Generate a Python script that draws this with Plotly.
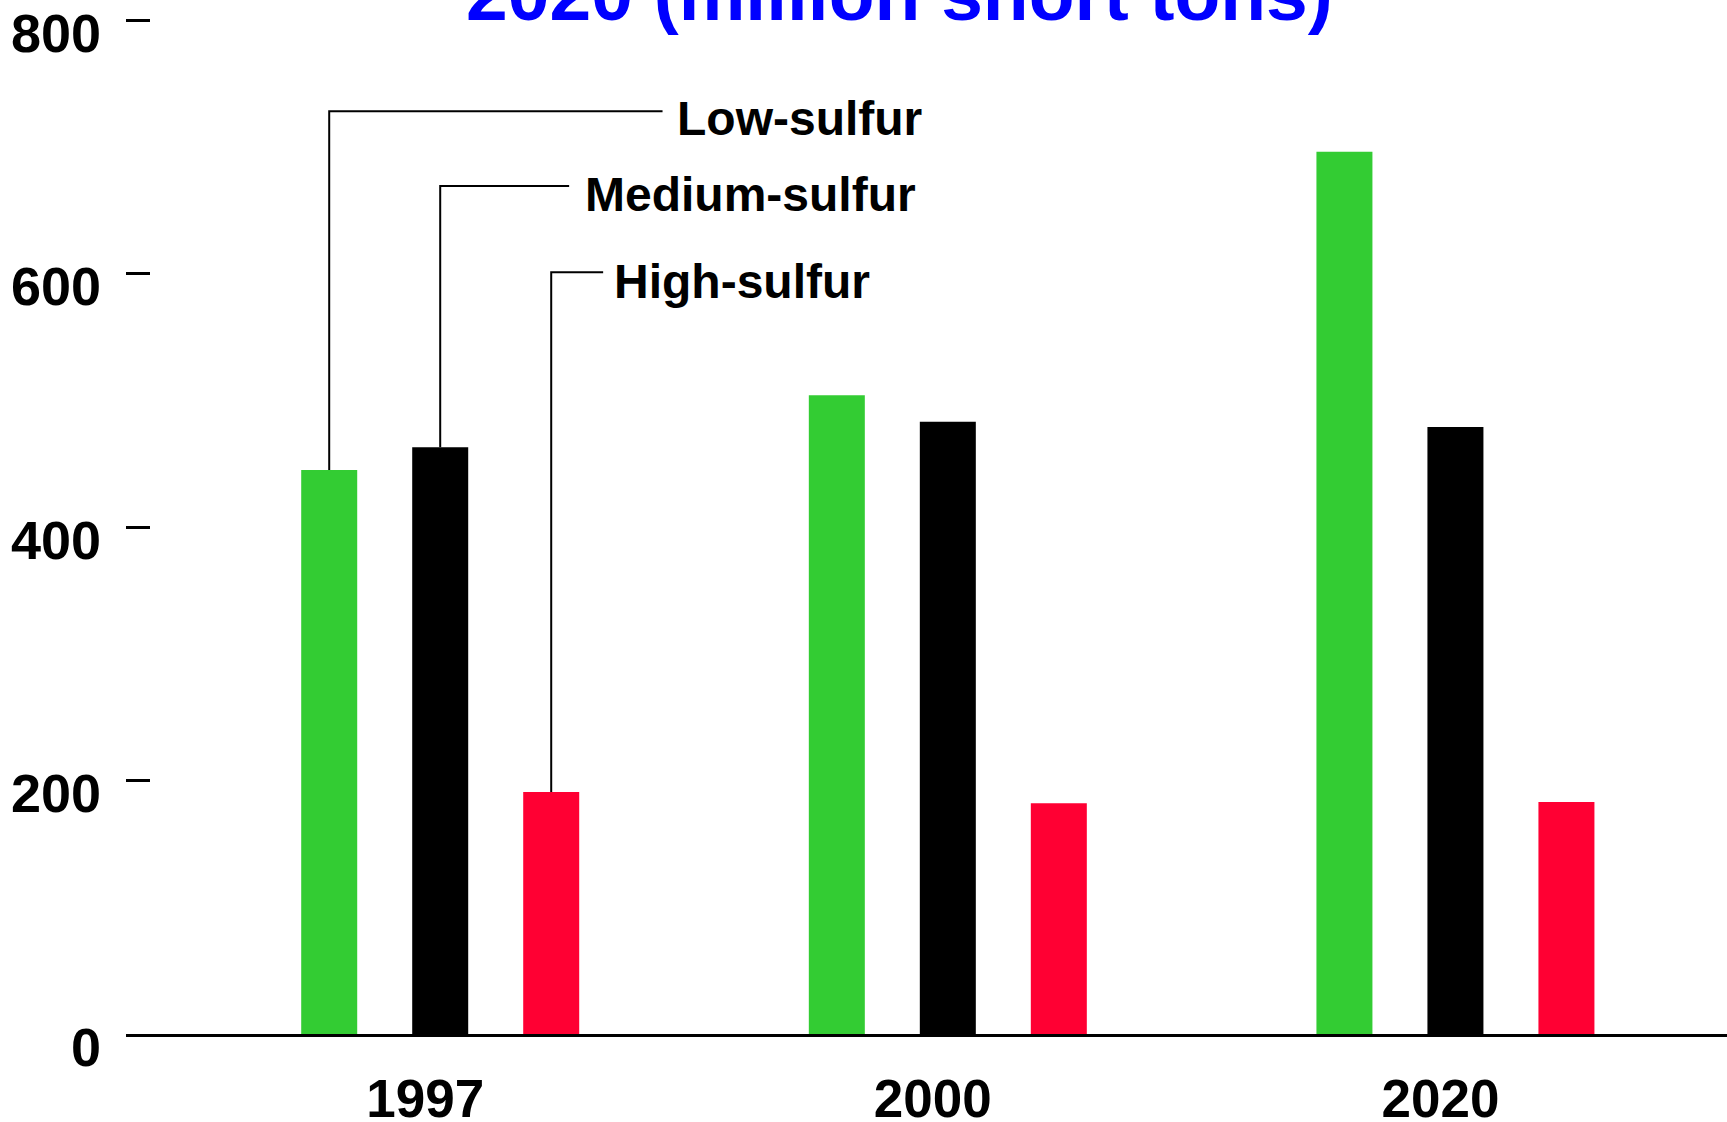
import plotly.graph_objects as go

years = ["1997", "2000", "2020"]
low_sulfur = [445, 504, 696]
medium_sulfur = [463, 483, 479]
high_sulfur = [191, 182, 183]
series_names = ["Low-sulfur", "Medium-sulfur", "High-sulfur"]
series_colors = ["rgb(51,204,51)", "rgb(0,0,0)", "rgb(255,0,51)"]
y_ticks = [0, 200, 400, 600, 800]
title_text = "2020 (million short tons)"

FONT = "Liberation Sans, Arial, sans-serif"
BARGAP = 0.344
BARGROUPGAP = 0.4955

fig = go.Figure()
for name, vals, col in zip(series_names, [low_sulfur, medium_sulfur, high_sulfur], series_colors):
    fig.add_trace(go.Bar(x=years, y=vals, name=name, marker=dict(color=col, line=dict(width=0))))

# leader lines and labels for the 1997 group
slot = (1 - BARGAP) / 3
offsets = [-slot, 0, slot]
elbow_y = [728, 669, 601]
line_end_x = [0.438, 0.254, 0.321]
label_x = [0.462, 0.282, 0.338]
label_y = [722, 662, 594]
first_vals = [low_sulfur[0], medium_sulfur[0], high_sulfur[0]]
for i in range(3):
    bx = 0 + offsets[i]
    fig.add_shape(type="path",
                  path=f"M {bx},{first_vals[i]} L {bx},{elbow_y[i]} L {line_end_x[i]},{elbow_y[i]}",
                  xref="x", yref="y", line=dict(color="black", width=2))
    fig.add_annotation(x=label_x[i], y=label_y[i], xref="x", yref="y", text=f"<b>{series_names[i]}</b>",
                       showarrow=False, xanchor="left", yanchor="middle",
                       font=dict(family=FONT, size=48, color="black"))

fig.add_annotation(x=(899 - 126) / 1601, y=0.9628, xref="paper", yref="paper", text=f"<b>{title_text}</b>",
                   showarrow=False, xanchor="center", yanchor="bottom",
                   font=dict(family=FONT, size=75, color="rgb(0,0,255)"))

fig.update_layout(
    width=1727, height=1122, autosize=False,
    margin=dict(l=126, r=0, t=0, b=88, autoexpand=False),
    plot_bgcolor="white", paper_bgcolor="white",
    barmode="group", bargap=BARGAP, bargroupgap=BARGROUPGAP,
    showlegend=False,
    font=dict(family=FONT, color="black"),
)
fig.update_xaxes(type="category", range=[-0.619, 2.535], showline=True, linecolor="black", linewidth=2.7,
                 ticks="", showgrid=False, zeroline=False, automargin=False,
                 tickfont=dict(family=FONT, size=53, color="black"), ticklabelstandoff=17,
                 ticklabelshift=-15, ticklabeloverflow="allow",
                 tickvals=years, ticktext=[f"<b>{y}</b>" for y in years])
fig.update_yaxes(range=[0, 815.8], showline=False, showgrid=False, zeroline=False, automargin=False,
                 ticks="inside", ticklen=24, tickwidth=2.7, tickcolor="black",
                 ticklabeloverflow="allow", ticklabelshift=13,
                 tickvals=y_ticks, ticktext=[f"<b>{v}</b>" for v in y_ticks],
                 tickfont=dict(family=FONT, size=54, color="black"), ticklabelstandoff=24)

fig.write_html("out.html", config={"displayModeBar": False},
               post_script="document.body.style.margin='0px';document.body.style.overflow='hidden';")
